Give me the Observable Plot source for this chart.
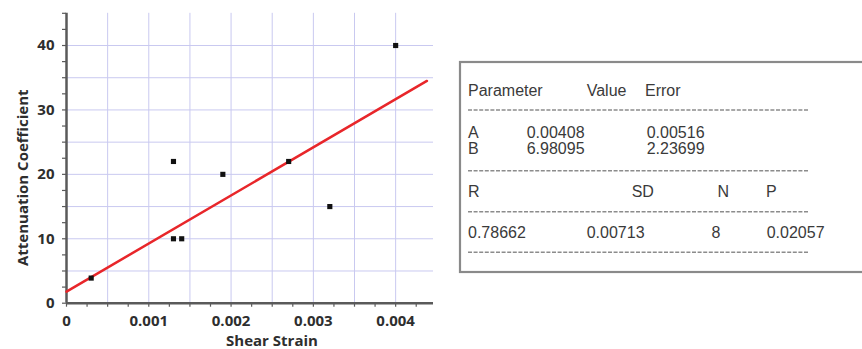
<!DOCTYPE html>
<html>
<head>
<meta charset="utf-8">
<script src="https://cdn.jsdelivr.net/npm/d3@7"></script>
<script src="https://cdn.jsdelivr.net/npm/@observablehq/plot@0.6"></script>
<style>
  html, body { margin: 0; padding: 0; background: #fff; }
  #wrap { position: relative; width: 862px; height: 349px; overflow: hidden; }
  #chart { position: absolute; left: 0; top: 0; }
  #table { position: absolute; left: 0; top: 0; }
</style>
</head>
<body>
<div id="wrap">
  <div id="chart"></div>
  <svg id="table" width="862" height="349"></svg>
</div>
<script>
// ---- data ----
const strain = [0.0003, 0.0013, 0.0013, 0.0014, 0.0019, 0.0027, 0.0032, 0.0040];
const attenuation = [3.9, 22, 10, 10, 20, 22, 15, 40];
const fitStrain = [0, 0.00438];
const fitAttenuation = [1.8, 34.5];

const xLabelTicks = [0, 0.001, 0.002, 0.003, 0.004];
const xLabelText = ["0", "0.001", "0.002", "0.003", "0.004"];
const xGridTicks = [0.0005, 0.001, 0.0015, 0.002, 0.0025, 0.003, 0.0035, 0.004];
const xMinorTicks = [0, 0.00025, 0.0005, 0.00075, 0.001, 0.00125, 0.0015, 0.00175, 0.002, 0.00225, 0.0025, 0.00275, 0.003, 0.00325, 0.0035, 0.00375, 0.004, 0.00425];
const yLabelTicks = [0, 10, 20, 30, 40];
const yGridTicks = [5, 10, 15, 20, 25, 30, 35, 40];
const yMinorTicks = [0, 2.5, 5, 7.5, 10, 12.5, 15, 17.5, 20, 22.5, 25, 27.5, 30, 32.5, 35, 37.5, 40, 42.5, 45];

const xTitle = "Shear Strain";
const yTitle = "Attenuation Coefficient";

// fit statistics table
const tableHeader = ["Parameter", "Value", "Error"];
const paramNames = ["A", "B"];
const paramValues = ["0.00408", "6.98095"];
const paramErrors = ["0.00516", "2.23699"];
const statHeader = ["R", "SD", "N", "P"];
const statValues = ["0.78662", "0.00713", "8", "0.02057"];

// ---- chart ----
const points = strain.map((s, i) => ({s, a: attenuation[i]}));
const fit = fitStrain.map((s, i) => ({s, a: fitAttenuation[i]}));

const axisColor = "#5a5a5a";
const gridColor = "#c9c9f0";

const chart = Plot.plot({
  width: 445,
  height: 349,
  marginLeft: 66,
  marginRight: 12,
  marginTop: 12.8,
  marginBottom: 46.3,
  style: {fontFamily: "'Open Sans', sans-serif", fontSize: "15px", fontWeight: "bold", color: "#2e2e2e", background: "white"},
  x: {domain: [0, 0.00446]},
  y: {domain: [0, 45]},
  marks: [
    Plot.gridX(xGridTicks, {stroke: gridColor, strokeOpacity: 1, strokeWidth: 1}),
    Plot.gridY(yGridTicks, {stroke: gridColor, strokeOpacity: 1, strokeWidth: 1}),
    Plot.axisX(xMinorTicks, {tickSize: 4, text: null, stroke: axisColor, strokeWidth: 1.2, label: null}),
    Plot.axisY(yMinorTicks, {tickSize: 4, text: null, stroke: axisColor, strokeWidth: 1.2, label: null}),
    Plot.axisX(xLabelTicks, {tickSize: 0, tickPadding: 12, tickFormat: (d, i) => xLabelText[i], fill: "#2e2e2e", fontSize: 15, fontWeight: "bold", label: null}),
    Plot.axisY(yLabelTicks, {tickSize: 0, tickPadding: 12, fill: "#2e2e2e", fontSize: 15, fontWeight: "bold", label: null}),
    Plot.ruleY([0], {stroke: axisColor, strokeWidth: 2.5}),
    Plot.ruleX([0], {stroke: axisColor, strokeWidth: 2.5}),
    Plot.line(fit, {x: "s", y: "a", stroke: "#e8262a", strokeWidth: 2.5}),
    Plot.dot(points, {x: "s", y: "a", symbol: "square", r: 2.9, fill: "#111", stroke: "none"}),
    Plot.text([xTitle], {frameAnchor: "bottom", textAnchor: "middle", lineAnchor: "middle", dx: 22, dy: 38, fontSize: 15, fontWeight: "bold", fill: "#2e2e2e"}),
    Plot.text([yTitle], {frameAnchor: "left", textAnchor: "middle", lineAnchor: "middle", rotate: -90, dx: -43.5, dy: 19.5, fontSize: 15, fontWeight: "bold", fill: "#2e2e2e"})
  ]
});
document.getElementById("chart").appendChild(chart);

// ---- statistics box ----
const svg = d3.select("#table");
svg.append("rect").attr("x", 460).attr("y", 62).attr("width", 430).attr("height", 210)
  .attr("fill", "white").attr("stroke", "#8a8a8a").attr("stroke-width", 2.2);

const txt = (x, y, s) => svg.append("text").attr("x", x).attr("y", y).text(s)
  .attr("font-family", "'Liberation Sans', Arial, sans-serif").attr("font-size", 16).attr("fill", "#3a3a3a");

const headerX = [468, 586.7, 645];
tableHeader.forEach((s, i) => txt(headerX[i], 95.5, s));
const rowY = [137.5, 154];
paramNames.forEach((s, i) => {
  txt(468, rowY[i], s);
  txt(526.7, rowY[i], paramValues[i]);
  txt(646.7, rowY[i], paramErrors[i]);
});
const statHX = [468, 631.7, 717.5, 766];
statHeader.forEach((s, i) => txt(statHX[i], 197, s));
const statVX = [468, 586.7, 711.5, 766.7];
statValues.forEach((s, i) => txt(statVX[i], 238.3, s));

[110, 170.7, 211.7, 252.3].forEach(y => {
  svg.append("line").attr("x1", 468).attr("x2", 809).attr("y1", y).attr("y2", y)
    .attr("stroke", "#8c8c8c").attr("stroke-width", 1.5).attr("stroke-dasharray", "4 1.6");
});
</script>
</body>
</html>
